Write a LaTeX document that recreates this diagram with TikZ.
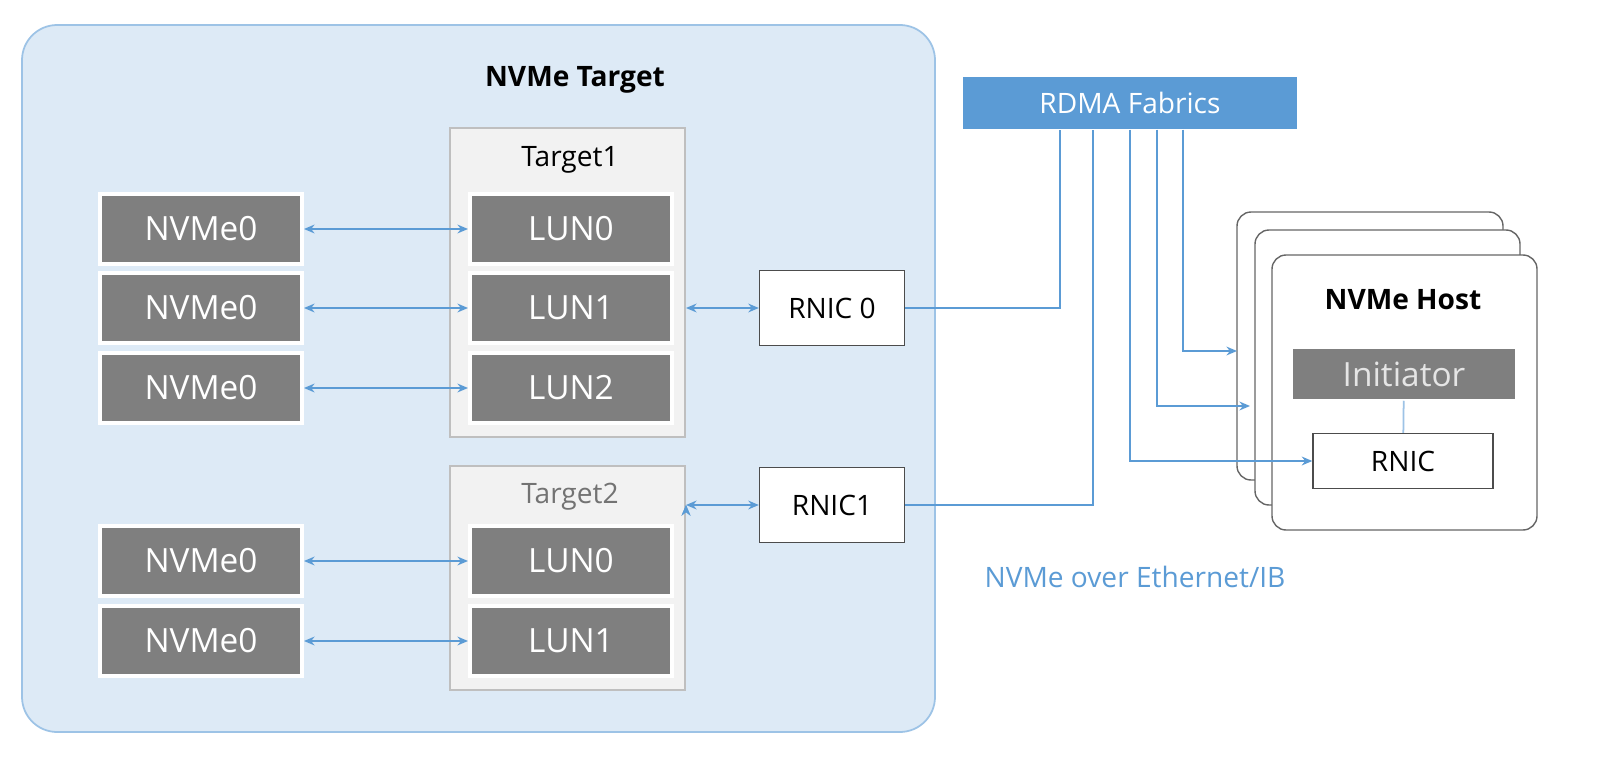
\documentclass[tikz,border=0pt]{standalone}
\usepackage{fontspec}
\setmainfont{Open Sans}
\usetikzlibrary{arrows.meta,positioning}
\definecolor{tgtfill}{HTML}{DDEAF6}
\definecolor{tgtline}{HTML}{9DC3E6}
\definecolor{linkblue}{HTML}{5B9BD5}
\definecolor{lungray}{HTML}{7F7F7F}
\tikzset{lun/.style={fill=lungray, draw=white, line width=2pt, text=white, minimum width=4.05cm, minimum height=1.4cm, font=\fontsize{19}{22}\selectfont}}
\tikzset{rnic/.style={fill=white, draw=black!70, line width=0.8pt, minimum width=2.9cm, minimum height=1.5cm, font=\fontsize{16}{19}\selectfont}}
\tikzset{grp/.style={fill=black!5, draw=black!25, line width=0.8pt}}
\tikzset{host/.style={fill=white, draw=black!60, line width=0.8pt, rounded corners=8pt}}
\tikzset{link/.style={draw=linkblue, line width=1.2pt}}
\begin{document}
\begin{tikzpicture}[x=0.02cm, y=-0.02cm, >={Stealth[length=6pt,width=5pt]}]
\useasboundingbox (0,0) rectangle (1612,770);
% target side
\draw[fill=tgtfill, draw=tgtline, line width=1pt, rounded corners=20pt] (22,25) rectangle (935,732);
\node[font=\bfseries\fontsize{16}{19}\selectfont] (tgt) at (575,80) {NVMe Target};
\draw[grp] (450,128) rectangle (685,437);
\draw[grp] (450,466) rectangle (685,690);
\node[font=\fontsize{16}{19}\selectfont] (t1) at (570,160) {Target1};
\node[font=\fontsize{16}{19}\selectfont, text=black!55] (t2) at (570,497) {Target2};
\node[lun] (L0) at (571,229) {LUN0};
\node[lun] (L1) at (571,308) {LUN1};
\node[lun] (L2) at (571,388) {LUN2};
\node[lun] (M0) at (571,561) {LUN0};
\node[lun] (M1) at (571,641) {LUN1};
\node[lun] (N0) at (201,229) {NVMe0};
\node[lun] (N1) at (201,308) {NVMe0};
\node[lun] (N2) at (201,388) {NVMe0};
\node[lun] (N3) at (201,561) {NVMe0};
\node[lun] (N4) at (201,641) {NVMe0};
\node[rnic] (R0) at (832,308) {RNIC 0};
\node[rnic] (R1) at (832,505) {RNIC1};
\coordinate (T2) at (686,505);
\coordinate (T1) at (686,308);
\path[link, <->] (N0) edge (L0) (N1) edge (L1) (N2) edge (L2)
(N3) edge (M0) (N4) edge (M1) (T1) edge (R0) (T2) edge (R1);
% fabric and host
\node[fill=linkblue, text=white, minimum width=6.7cm, minimum height=1.05cm, font=\fontsize{16}{19}\selectfont] (F) at (1130,103) {RDMA Fabrics};
\draw[host] (1237,212) rectangle (1503,480);
\draw[host] (1255,230) rectangle (1520,505);
\draw[host] (1272,255) rectangle (1537,530);
\node[font=\bfseries\fontsize{16}{19}\selectfont] (H) at (1403,300) {NVMe Host};
\node[lun, draw=none, minimum width=4.45cm, minimum height=1cm, text=black!10] (I) at (1404,374) {Initiator};
\node[rnic, minimum width=3.6cm, minimum height=1.1cm] (R2) at (1403,461) {RNIC};
\draw[tgtline, line width=1pt] (I) -- (R2);
\coordinate (H0) at (1237,351);
\coordinate (H1) at (1250,406);
\draw[link] (R0) -| (F.south -| 1060,0);
\draw[link] (R1) -| (F.south -| 1093,0);
\draw[link, ->] (F.south -| 1183,0) |- (H0);
\draw[link, ->] (F.south -| 1157,0) |- (H1);
\draw[link, ->] (F.south -| 1130,0) |- (R2);
\node[text=linkblue, font=\fontsize{16}{19}\selectfont] (E) at (1135,577) {NVMe over Ethernet/IB};
\end{tikzpicture}
\end{document}
